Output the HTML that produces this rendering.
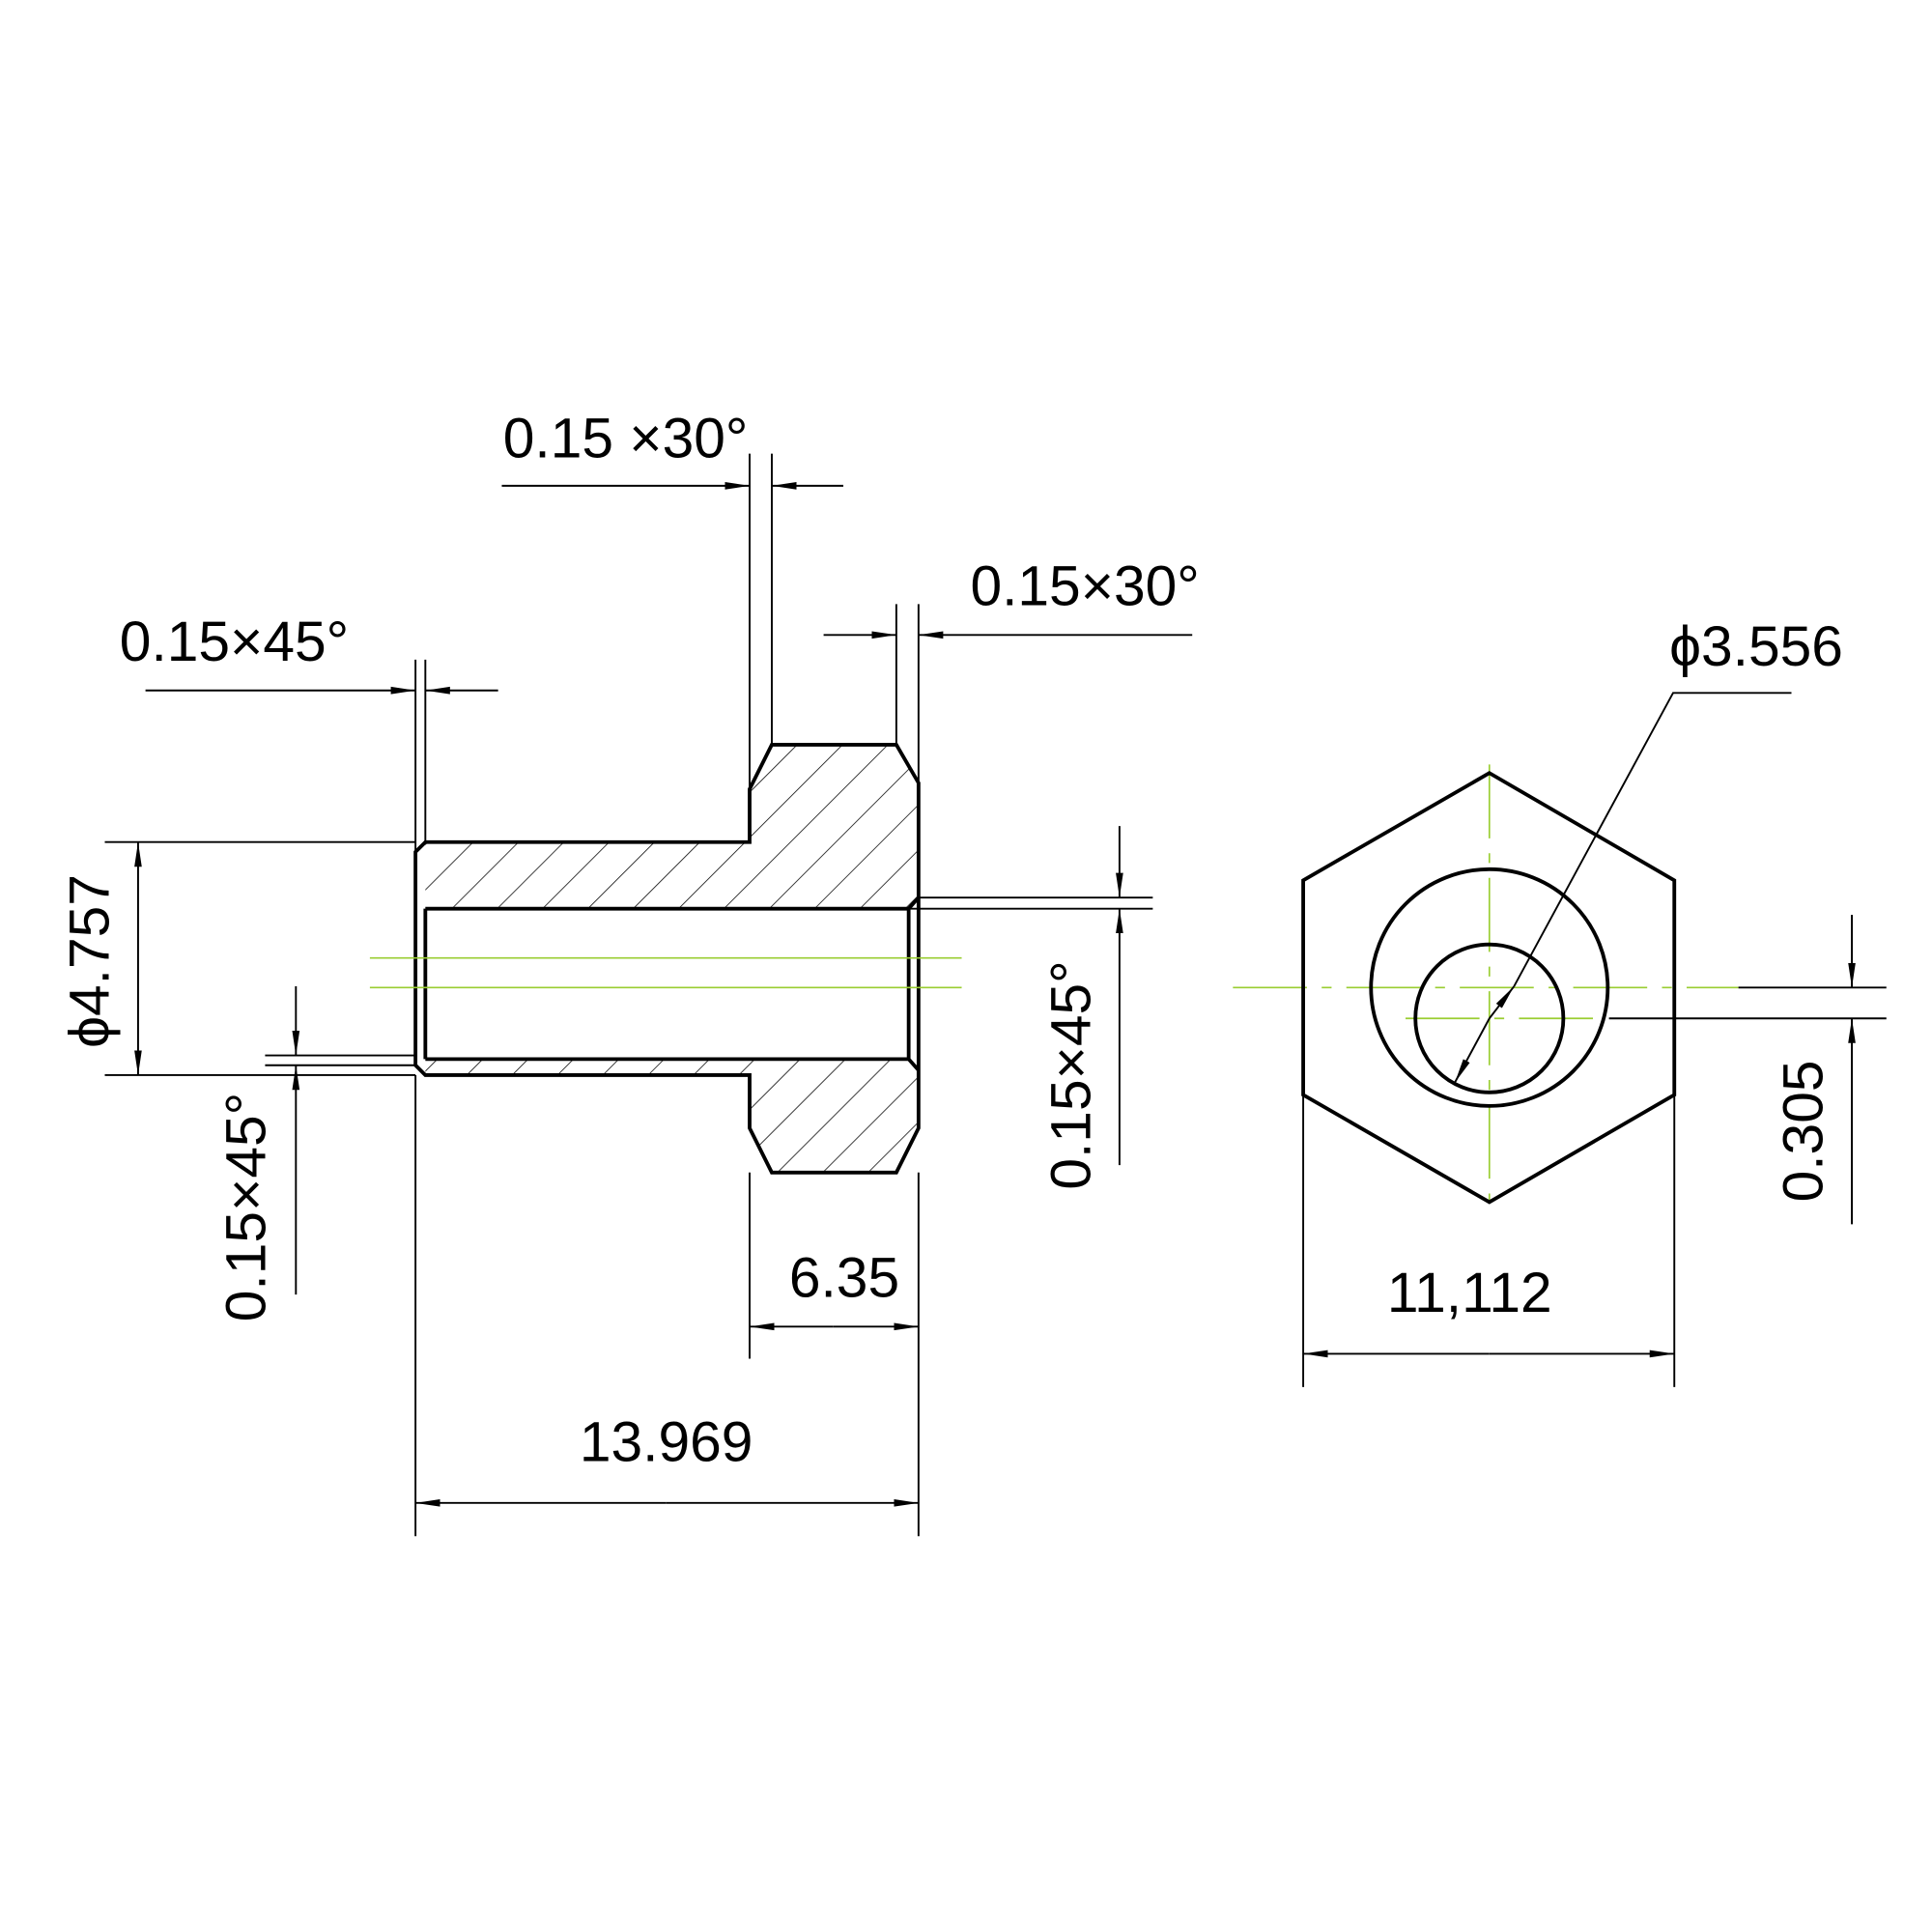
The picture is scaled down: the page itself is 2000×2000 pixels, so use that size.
<!DOCTYPE html>
<html><head><meta charset="utf-8"><style>html,body{margin:0;padding:0;background:#fff}svg{display:block}</style></head>
<body>
<svg width="2000" height="2000" viewBox="0 0 1567 1567" xmlns="http://www.w3.org/2000/svg">
<defs>
<pattern id="h" patternUnits="userSpaceOnUse" width="26" height="26" patternTransform="rotate(45)">
<line x1="0" y1="0" x2="0" y2="26" stroke="#000" stroke-width="1.2"/>
</pattern>
<marker id="a" viewBox="0 0 20 8" refX="20" refY="4" markerWidth="20" markerHeight="8" markerUnits="userSpaceOnUse" orient="auto-start-reverse">
<path d="M0,1 L20,4 L0,7 Z" fill="#000"/></marker>
</defs>
<rect width="1600" height="1600" fill="#fff"/>
<g font-family="'Liberation Sans Narrow','Liberation Sans',sans-serif" font-size="46" fill="#000">
<path d="M345,683 L608,683 L608,640 L626,604 L727,604 L745,635 L745,728 L737,737 L345,737 Z" fill="url(#h)"/>
<path d="M345,859 L737,859 L745,868 L745,915 L727,951 L626,951 L608,915 L608,872 L345,872 Z" fill="url(#h)"/>
<g fill="none" stroke="#000" stroke-width="3">
<path d="M345,683 L608,683 L608,640 L626,604 L727,604 L745,635 L745,915 L727,951 L626,951 L608,915 L608,872 L345,872 L337,864 L337,691 Z"/>
<path d="M345,737 L737,737 L745,728 M345,859 L737,859 L745,868 M737,737 L737,859 M345,737 L345,859"/>
</g>
<g stroke="#9acd32" stroke-width="1.3" fill="none">
<line x1="300" y1="777" x2="780" y2="777"/>
<line x1="300" y1="801" x2="780" y2="801"/>
<path d="M1000,801 L1410,801" stroke-dasharray="60,12,8,12"/>
<path d="M1140,826 L1300,826" stroke-dasharray="60,12,8,12"/>
<path d="M1208,620 L1208,985" stroke-dasharray="60,12,8,12"/>
</g>
<g fill="none" stroke="#000" stroke-width="3">
<path d="M1208,627 L1358,714 L1358,888 L1208,975 L1057,888 L1057,714 Z"/>
<circle cx="1208" cy="801" r="96"/>
<circle cx="1208" cy="826" r="60"/>
</g>
<g stroke="#000" stroke-width="1.5" fill="none">
<line x1="608" y1="368" x2="608" y2="640"/><line x1="626" y1="368" x2="626" y2="604"/>
<line x1="407" y1="394" x2="608" y2="394" marker-end="url(#a)"/>
<line x1="684" y1="394" x2="626" y2="394" marker-end="url(#a)"/>
<line x1="727" y1="490" x2="727" y2="604"/><line x1="745" y1="490" x2="745" y2="635"/>
<line x1="668" y1="515" x2="727" y2="515" marker-end="url(#a)"/>
<line x1="967" y1="515" x2="745" y2="515" marker-end="url(#a)"/>
<line x1="337" y1="535" x2="337" y2="691"/><line x1="345" y1="535" x2="345" y2="683"/>
<line x1="118" y1="560" x2="337" y2="560" marker-end="url(#a)"/>
<line x1="404" y1="560" x2="345" y2="560" marker-end="url(#a)"/>
<line x1="85" y1="683" x2="337" y2="683"/><line x1="85" y1="872" x2="337" y2="872"/>
<line x1="112" y1="778" x2="112" y2="683" marker-end="url(#a)"/>
<line x1="112" y1="778" x2="112" y2="872" marker-end="url(#a)"/>
<line x1="215" y1="856" x2="337" y2="856"/><line x1="215" y1="864" x2="337" y2="864"/>
<line x1="240" y1="800" x2="240" y2="856" marker-end="url(#a)"/>
<line x1="240" y1="1050" x2="240" y2="864" marker-end="url(#a)"/>
<line x1="745" y1="728" x2="935" y2="728"/><line x1="737" y1="737" x2="935" y2="737"/>
<line x1="908" y1="670" x2="908" y2="728" marker-end="url(#a)"/>
<line x1="908" y1="945" x2="908" y2="737" marker-end="url(#a)"/>
<line x1="608" y1="951" x2="608" y2="1102"/><line x1="745" y1="951" x2="745" y2="1102"/>
<line x1="676" y1="1076" x2="608" y2="1076" marker-end="url(#a)"/>
<line x1="676" y1="1076" x2="745" y2="1076" marker-end="url(#a)"/>
<line x1="337" y1="872" x2="337" y2="1246"/><line x1="745" y1="1102" x2="745" y2="1246"/>
<line x1="540" y1="1219" x2="337" y2="1219" marker-end="url(#a)"/>
<line x1="540" y1="1219" x2="745" y2="1219" marker-end="url(#a)"/>
<line x1="1057" y1="888" x2="1057" y2="1125"/><line x1="1358" y1="888" x2="1358" y2="1125"/>
<line x1="1208" y1="1098" x2="1057" y2="1098" marker-end="url(#a)"/>
<line x1="1208" y1="1098" x2="1358" y2="1098" marker-end="url(#a)"/>
<line x1="1410" y1="801" x2="1530" y2="801"/><line x1="1305" y1="826" x2="1530" y2="826"/>
<line x1="1502" y1="742" x2="1502" y2="801" marker-end="url(#a)"/>
<line x1="1502" y1="993" x2="1502" y2="826" marker-end="url(#a)"/>
<path d="M1453,562 L1357,562 L1228,800"/>
<line x1="1208" y1="826" x2="1228" y2="800" marker-end="url(#a)"/>
<line x1="1208" y1="826" x2="1180" y2="878" marker-end="url(#a)"/>
</g>
<text x="408" y="371">0.15 ×30°</text>
<text x="787" y="491">0.15×30°</text>
<text x="97" y="536">0.15×45°</text>
<text x="1354" y="540">ϕ3.556</text>
<text x="640" y="1052">6.35</text>
<text x="470" y="1185">13.969</text>
<text x="1125" y="1064">11,112</text>
<text transform="translate(88,850) rotate(-90)">ϕ4.757</text>
<text transform="translate(215,1072) rotate(-90)">0.15×45°</text>
<text transform="translate(884,965) rotate(-90)">0.15×45°</text>
<text transform="translate(1478,975) rotate(-90)">0.305</text>
</g>
</svg>
</body></html>
